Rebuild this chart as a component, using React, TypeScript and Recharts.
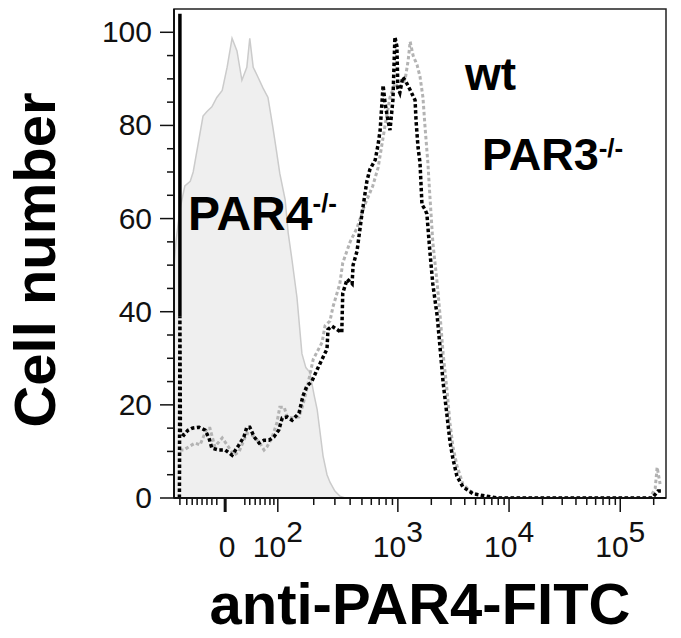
import React from 'react';
import { ComposedChart, Area, Line, XAxis, YAxis, ReferenceArea } from 'recharts';

// x = display channel (0-1000 across the biexponential FITC axis), y = cell number
const PAR4_CH = [0, 4, 12, 22, 33, 39, 49, 59, 67, 77, 87, 98, 108, 118, 128, 138, 148, 154, 161, 171, 181, 191, 201, 209, 215, 226, 232, 240, 250, 260, 268, 276, 285, 291, 297, 303, 311, 317, 327, 337, 348];
const PAR4_COUNT = [50, 55, 62, 67, 68, 70, 76, 82, 83, 84, 86, 87.5, 92.5, 98.7, 96, 89.7, 92.5, 98.7, 92.5, 90.3, 88, 86, 79.6, 74, 69.7, 64, 57, 51, 43, 31, 28, 27, 22, 19, 14, 9, 5, 3.4, 1.5, 0.4, 0];

const WT_CH = [11, 12, 13, 20, 28, 37, 51, 63, 71, 77, 91, 104, 118, 132, 142, 148, 154, 163, 173, 183, 193, 203, 213, 220, 230, 240, 254, 262, 270, 280, 291, 301, 311, 313, 321, 331, 341, 343, 352, 362, 364, 372, 382, 392, 398, 409, 415, 419, 425, 429, 435, 439, 445, 449, 453, 455, 459, 465, 470, 480, 490, 492, 496, 500, 504, 510, 514, 520, 526, 535, 541, 547, 555, 561, 567, 575, 587, 608, 636, 657, 972, 984, 990];
const WT_COUNT = [0, 39, 14, 13.5, 14.5, 15, 15.2, 14.6, 12.9, 10.7, 10.3, 10.3, 9.2, 11.4, 13.1, 15.2, 15.2, 13.1, 11.8, 12.4, 12.4, 13.1, 14.6, 17.2, 17.4, 16.7, 18.2, 21.9, 24, 25, 27.6, 29.8, 32, 36.2, 36.9, 36.2, 35.5, 44, 47, 46, 50, 53, 61, 68, 70.5, 72.6, 76, 79, 88.6, 84.8, 81, 79, 85.5, 99, 97, 88, 87, 90.4, 89.7, 87.6, 85.4, 81, 75.3, 72, 63, 62, 61, 53, 46, 39, 32, 24.8, 17.6, 12, 8.4, 4.7, 2.4, 0.9, 0.4, 0, 0, 1.5, 1.5];
// first wt bin is off scale: drawn solid up to the top of the frame
const WT_EDGE_CH = [12, 12];
const WT_EDGE_COUNT = [39, 104];

const PAR3_CH = [11, 12, 20, 30, 43, 53, 67, 73, 83, 98, 104, 122, 132, 148, 159, 173, 183, 189, 199, 209, 215, 224, 230, 240, 254, 262, 270, 283, 301, 307, 317, 323, 337, 343, 358, 372, 388, 404, 415, 429, 439, 449, 459, 470, 476, 480, 486, 494, 500, 506, 510, 516, 520, 526, 535, 541, 547, 555, 561, 567, 575, 587, 602, 622, 652, 967, 978, 982, 988];
const PAR3_COUNT = [0, 10.3, 10.3, 11, 11.8, 11.4, 15, 15, 11, 12.9, 12, 9.2, 9.9, 13.9, 13.5, 12, 10.3, 11, 12.9, 16.1, 19.5, 19.5, 17.4, 17.2, 17.4, 20, 23.4, 29.8, 33.4, 37, 38, 41, 46, 50.5, 55, 58, 63, 67, 71, 80, 86, 89, 88, 90, 94, 98, 95, 93, 90.5, 86, 80, 72, 65, 55, 46, 39, 31, 23, 16, 11, 7, 3, 1.5, 0.5, 0, 0, 2, 6.6, 3];

// axis ticks
const X_MAJOR_CH = [104, 211, 455, 681, 907];
const X_MAJOR_BASE = ['0', '10', '10', '10', '10'];
const X_MAJOR_EXP = ['', '2', '3', '4', '5'];
const X_MINOR_LOW = [12, 26, 37, 47, 57, 67, 77, 87, 144, 154, 165, 175, 185, 195, 203];
const Y_MAJOR = [0, 20, 40, 60, 80, 100];

const FONT = "'Liberation Sans', Arial, Helvetica, sans-serif";

// log minor ticks (2..9 x 10^n) between decade positions
const decadeMinors: number[] = [];
for (let i = 1; i < X_MAJOR_CH.length; i++) {
  const start = X_MAJOR_CH[i];
  const next = i + 1 < X_MAJOR_CH.length ? X_MAJOR_CH[i + 1] : start + (start - X_MAJOR_CH[i - 1]);
  for (let m = 2; m <= 9; m++) {
    const c = start + (next - start) * Math.log10(m);
    if (c <= 1000) decadeMinors.push(Math.round(c));
  }
}
const X_TICKS = [...X_MINOR_LOW, ...X_MAJOR_CH, ...decadeMinors].sort((a, b) => a - b);
const Y_TICKS: number[] = [];
for (let v = 0; v <= 100; v += 5) Y_TICKS.push(v);

type Row = { ch: number; par4?: number; wt?: number; wtEdge?: number; par3?: number };

function buildRows(): Row[] {
  const rows: Row[] = [];
  PAR4_CH.forEach((ch, i) => rows.push({ ch, par4: PAR4_COUNT[i] }));
  WT_CH.forEach((ch, i) => rows.push({ ch, wt: WT_COUNT[i] }));
  WT_EDGE_CH.forEach((ch, i) => rows.push({ ch, wtEdge: WT_EDGE_COUNT[i] }));
  PAR3_CH.forEach((ch, i) => rows.push({ ch, par3: PAR3_COUNT[i] }));
  return rows.sort((a, b) => a.ch - b.ch);
}

const data = buildRows();

function XTick(props: any) {
  const { x, y, payload } = props;
  const i = X_MAJOR_CH.indexOf(payload.value);
  if (i < 0) {
    return <line x1={x} x2={x} y1={y} y2={y + 7} stroke="#111" strokeWidth={1.5} />;
  }
  return (
    <g>
      <line x1={x} x2={x} y1={y} y2={y + 14} stroke="#111" strokeWidth={i === 0 ? 3 : 1.5} />
      <text x={x + (i === 0 ? 2 : 0)} y={y + 59} textAnchor="middle" fontSize={30} fontFamily={FONT} fill="#111">
        {X_MAJOR_BASE[i]}
        {X_MAJOR_EXP[i] && <tspan dy={-15}>{X_MAJOR_EXP[i]}</tspan>}
      </text>
    </g>
  );
}

function YTick(props: any) {
  const { x, y, payload } = props;
  const major = Y_MAJOR.includes(payload.value);
  return (
    <g>
      <line x1={x - (major ? 14 : 7)} x2={x} y1={y} y2={y} stroke="#111" strokeWidth={1.5} />
      {major && (
        <text x={x - 22} y={y + 10} textAnchor="end" fontSize={30} fontFamily={FONT} fill="#111">
          {payload.value}
        </text>
      )}
    </g>
  );
}

export default function App() {
  return (
    <div style={{ position: 'absolute', left: 0, top: 0, width: 681, height: 638, background: '#fff' }}>
      <ComposedChart width={681} height={638} data={data} margin={{ top: 9, right: 15, left: 0, bottom: 0 }}>
        <XAxis
          dataKey="ch"
          type="number"
          domain={[0, 1000]}
          allowDataOverflow
          ticks={X_TICKS}
          interval={0}
          tick={<XTick />}
          tickLine={false}
          tickSize={0}
          tickMargin={0}
          height={140}
          axisLine={{ stroke: '#111', strokeWidth: 2 }}
        />
        <YAxis
          type="number"
          domain={[0, 105]}
          allowDataOverflow
          ticks={Y_TICKS}
          interval={0}
          tick={<YTick />}
          tickLine={false}
          tickSize={0}
          tickMargin={0}
          width={174}
          axisLine={{ stroke: '#111', strokeWidth: 2 }}
        />
        <ReferenceArea x1={0} x2={1000} y1={0} y2={105} fill="none" stroke="#222" strokeWidth={1.5} />
        <Area
          dataKey="par4"
          type="linear"
          connectNulls
          fill="#efefef"
          fillOpacity={1}
          stroke="#cbcbcb"
          strokeWidth={1.5}
          dot={false}
          activeDot={false}
          isAnimationActive={false}
        />
        <Line
          dataKey="par3"
          type="linear"
          connectNulls
          stroke="#b3b3b3"
          strokeWidth={3}
          strokeDasharray="3.5 2.5"
          dot={false}
          activeDot={false}
          isAnimationActive={false}
        />
        <Line
          dataKey="wt"
          type="linear"
          connectNulls
          stroke="#000"
          strokeWidth={3.5}
          strokeDasharray="3.5 2.5"
          dot={false}
          activeDot={false}
          isAnimationActive={false}
        />
        <Line
          dataKey="wtEdge"
          type="linear"
          connectNulls
          stroke="#000"
          strokeWidth={3.5}
          dot={false}
          activeDot={false}
          isAnimationActive={false}
        />
      </ComposedChart>
      <svg
        width={681}
        height={638}
        style={{ position: 'absolute', left: 0, top: 0, pointerEvents: 'none' }}
        fontFamily={FONT}
        fontWeight="bold"
        fill="#000"
      >
        <text x={420} y={624} textAnchor="middle" fontSize={58}>
          anti-PAR4-FITC
        </text>
        <text transform="translate(55, 260) rotate(-90)" textAnchor="middle" fontSize={58}>
          Cell number
        </text>
        <text x={465} y={90} fontSize={46}>wt</text>
        <text x={482} y={170} fontSize={45}>
          PAR3<tspan dy={-13} fontSize={26}>-/-</tspan>
        </text>
        <text x={188} y={230} fontSize={48}>
          PAR4<tspan dy={-18} fontSize={26}>-/-</tspan>
        </text>
      </svg>
    </div>
  );
}
